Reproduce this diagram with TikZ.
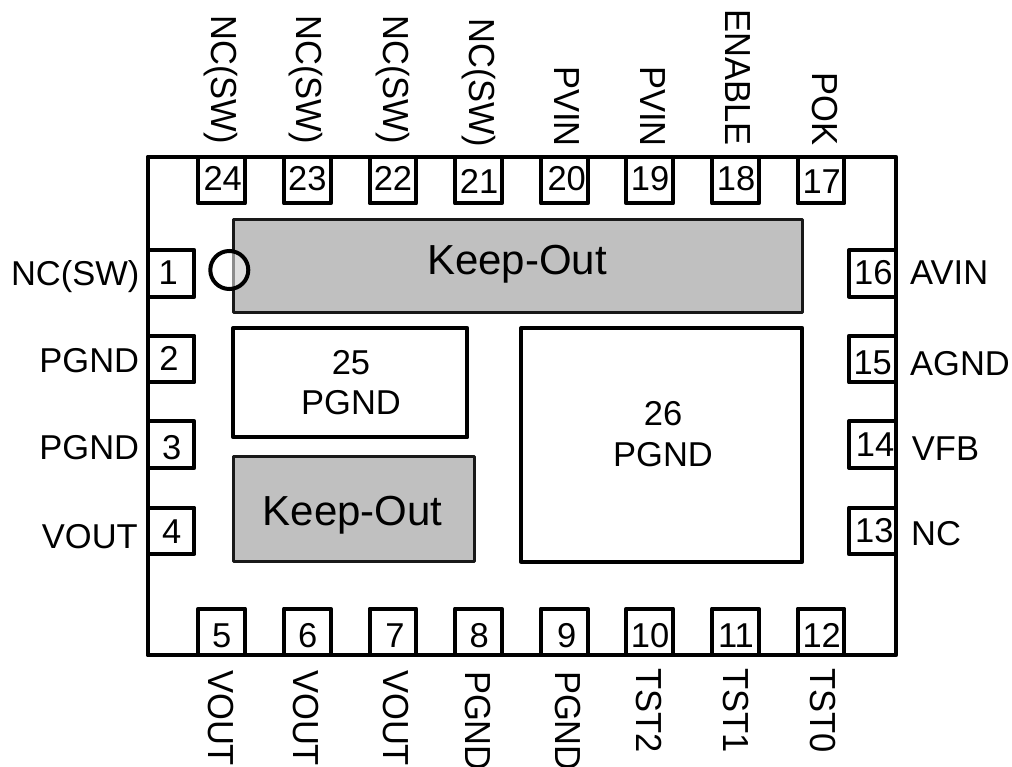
\documentclass[tikz,border=0pt]{standalone}
\usepackage{fontspec}
\setmainfont{Liberation Sans}
\definecolor{koGray}{HTML}{C0C0C0}
\tikzset{
  body/.style={draw=black,line width=4pt,line join=round,fill=white},
  keepout/.style={draw=black!90,line width=2.7pt,line join=round,fill=koGray},
  num/.style={inner sep=0pt,anchor=base,font=\fontsize{34.5}{34.5}\selectfont,text=black},
  big/.style={inner sep=0pt,anchor=base,font=\fontsize{42}{42}\selectfont,text=black},
  lbl/.style={inner sep=0pt,font=\fontsize{34.5}{34.5}\selectfont,text=black},
  vert/.style={lbl,rotate=-90,yscale=1.05,anchor=base west},
}
\begin{document}
\begin{tikzpicture}[x=1pt,y=-1pt]
\useasboundingbox (0,0) rectangle (1012,767);
\draw[body] (147.5,156.7) rectangle (896,655.3);
% top and bottom pins
\foreach \x in {198.3,284,369.5,455,541,626.3,712,797.7}{
  \draw[body] (\x,156.7) rectangle ++(46.7,46.7);
  \draw[body] (\x,655.3) rectangle ++(46.7,-46.7);
}
% side pins
\foreach \y in {250,335.7,421.3,507.5}{
  \draw[body] (147.5,\y) rectangle ++(46.8,46.7);
  \draw[body] (896,\y) rectangle ++(-47,46.7);
}
\draw[keepout] (233.3,219.3) rectangle (802.3,312.7);
\draw[keepout] (233.3,456.7) rectangle (474.3,561.7);
\draw[body] (233.3,328) rectangle (467.3,437.3);
\draw[body] (521,328) rectangle (802.3,561.7);
\draw[line width=4pt,fill=white,fill opacity=.5] (229.3,270) circle (19);
% pin numbers
\node[num] (n24) at (222.7,190.7) {24};
\node[num] (n23) at (307.3,190.7) {23};
\node[num] (n22) at (393,190.7) {22};
\node[num] (n21) at (479,194) {21};
\node[num] (n20) at (566.7,190.7) {20};
\node[num] (n19) at (650,190.7) {19};
\node[num] (n18) at (736,190.7) {18};
\node[num] (n17) at (821.7,194) {17};
\node[num] (n1) at (168.3,284.3) {1};
\node[num] (n2) at (169,370.7) {2};
\node[num] (n3) at (171.7,459.3) {3};
\node[num] (n4) at (171.7,543.3) {4};
\node[num] (n16) at (873.3,284.3) {16};
\node[num] (n15) at (872.7,374) {15};
\node[num] (n14) at (875,456.7) {14};
\node[num] (n13) at (874.3,542.7) {13};
\node[num] (n5) at (221.7,647.7) {5};
\node[num] (n6) at (307.7,647.7) {6};
\node[num] (n7) at (395,647.7) {7};
\node[num] (n8) at (479.3,647.7) {8};
\node[num] (n9) at (566.7,647.7) {9};
\node[num] (n10) at (650,647.7) {10};
\node[num] (n11) at (736,647.7) {11};
\node[num] (n12) at (821.7,647.7) {12};
% inner labels
\node[big] (k1) at (517,275) {Keep-Out};
\node[big] (k2) at (352.7,525) {Keep-Out};
\node[num] (p25a) at (351,374) {25};
\node[num] (p25b) at (351,414.3) {PGND};
\node[num] (p26a) at (663,425) {26};
\node[num] (p26b) at (663,466) {PGND};
% side labels
\node[lbl,anchor=base west] (l1) at (10.8,286) {NC(SW)};
\node[lbl,anchor=base west] (l2) at (39.2,372.3) {PGND};
\node[lbl,anchor=base west] (l3) at (39.2,459) {PGND};
\node[lbl,anchor=base west] (l4) at (41.7,548.3) {VOUT};
\node[lbl,anchor=base west] (r16) at (910,285) {AVIN};
\node[lbl,anchor=base west] (r15) at (910,375) {AGND};
\node[lbl,anchor=base west] (r14) at (911.7,460) {VFB};
\node[lbl,anchor=base west] (r13) at (911,545) {NC};
% top labels
\node[vert] (t24) at (211.7,15) {NC(SW)};
\node[vert] (t23) at (296.7,15) {NC(SW)};
\node[vert] (t22) at (383.3,15) {NC(SW)};
\node[vert] (t21) at (469.5,18) {NC(SW)};
\node[vert] (t20) at (554.5,66) {PVIN};
\node[vert] (t19) at (640.8,66) {PVIN};
\node[vert] (t18) at (725.9,9.2) {ENABLE};
\node[vert] (t17) at (812.5,72) {POK};
% bottom labels
\node[vert] (b5) at (208,670) {VOUT};
\node[vert] (b6) at (293.5,670) {VOUT};
\node[vert] (b7) at (383,670) {VOUT};
\node[vert] (b8) at (465,670.8) {PGND};
\node[vert] (b9) at (555.7,670.8) {PGND};
\node[vert] (b10) at (636.5,668) {TST2};
\node[vert] (b11) at (723,668) {TST1};
\node[vert] (b12) at (810,668) {TST0};
\end{tikzpicture}
\end{document}
